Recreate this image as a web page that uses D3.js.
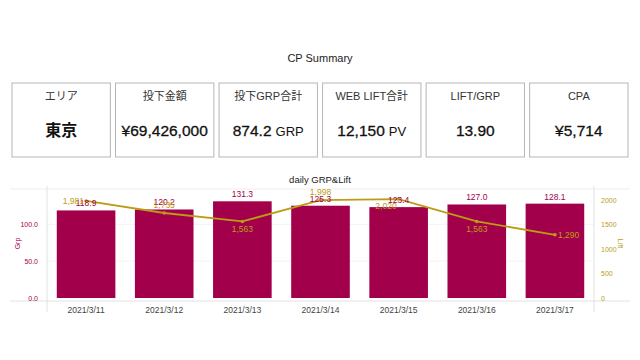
<!DOCTYPE html>
<html><head><meta charset="utf-8">
<script src="https://cdn.jsdelivr.net/npm/d3@7"></script>
<style>
html,body{margin:0;padding:0;background:#fff;}
svg{display:block;font-family:"Helvetica Neue",Arial,"Liberation Sans","Noto Sans CJK JP",sans-serif;}
</style></head>
<body>
<svg id="c" width="640" height="360"></svg>
<script>
const cardLabels = ["エリア","投下金額","投下GRP合計","WEB LIFT合計","LIFT/GRP","CPA"];
const cardValues = ["東京","¥69,426,000","874.2","12,150","13.90","¥5,714"];
const cardUnits = ["","","GRP","PV","",""];
const dates = ["2021/3/11","2021/3/12","2021/3/13","2021/3/14","2021/3/15","2021/3/16","2021/3/17"];
const grp = [118.9,120.2,131.3,125.3,123.4,127.0,128.1];
const lift = [1981,1735,1563,1998,2020,1563,1290];
const grpTicks = [0,50,100];
const liftTicks = [0,500,1000,1500,2000];
const liftLabelPos = ["left","top","bottom","top","bottomleft","bottom","right"];

const svg = d3.select("#c");
const crimson = "#a3004b", gold = "#bb9c14";

svg.append("text").attr("x",320).attr("y",62).attr("text-anchor","middle")
  .attr("font-size",11).attr("fill","#222").text("CP Summary");

const cardX = d3.scaleBand().domain(d3.range(cardLabels.length)).range([12,628]).paddingInner(0.05);
const cards = svg.selectAll("g.card").data(cardLabels).join("g").attr("class","card")
  .attr("transform",(d,i)=>`translate(${cardX(i)},83)`);
cards.append("rect").attr("width",cardX.bandwidth()).attr("height",74)
  .attr("fill","#fff").attr("stroke","#b5b5b5").attr("stroke-width",1);
cards.append("text").attr("x",cardX.bandwidth()/2).attr("y",17).attr("text-anchor","middle")
  .attr("font-size",11).attr("fill","#333").text(d=>d);
cards.each(function(d,i){
  const t = d3.select(this).append("text").attr("x",cardX.bandwidth()/2).attr("y",53)
    .attr("text-anchor","middle").attr("fill","#111");
  if(i===0){
    t.append("tspan").attr("font-size",16).attr("font-weight","bold").text(cardValues[i]);
  } else {
    t.append("tspan").attr("font-size",15.5).attr("stroke","#111").attr("stroke-width",0.3).text(cardValues[i]);
  }
  if(cardUnits[i]) t.append("tspan").attr("font-size",13).attr("dx",4).text(cardUnits[i]);
});

// chart
svg.append("text").attr("x",320).attr("y",183).attr("text-anchor","middle")
  .attr("font-size",9.5).attr("fill","#222").text("daily GRP&Lift");

const L=47, R=594, B=298, T=189;
const x = d3.scaleBand().domain(dates).range([L,R]).paddingInner(0.25).paddingOuter(0.125);
const yL = d3.scaleLinear().domain([0,148]).range([B,T]);
const yR = d3.scaleLinear().domain([0,2225]).range([B,T]);

svg.append("line").attr("x1",10).attr("x2",630).attr("y1",T).attr("y2",T).attr("stroke","#eee");
svg.append("g").selectAll("line").data(grpTicks.slice(1)).join("line")
  .attr("x1",L).attr("x2",R).attr("y1",d=>yL(d)).attr("y2",d=>yL(d)).attr("stroke","#f3f3f3");
svg.append("line").attr("x1",L).attr("x2",L).attr("y1",T-3).attr("y2",B+14).attr("stroke","#e2e2e2");
svg.append("line").attr("x1",R).attr("x2",R).attr("y1",T-3).attr("y2",B+14).attr("stroke","#e2e2e2");
svg.append("line").attr("x1",10).attr("x2",630).attr("y1",B+3).attr("y2",B+3).attr("stroke","#e2e2e2");

const axL = svg.append("g").attr("transform",`translate(${L-6},0)`)
  .call(d3.axisLeft(yL).tickValues(grpTicks).tickFormat(d3.format(".1f")).tickSize(0));
axL.select(".domain").remove();
axL.selectAll("text").attr("fill",crimson).attr("font-size",7).attr("font-family","inherit");
const axR = svg.append("g").attr("transform",`translate(${R+4},0)`)
  .call(d3.axisRight(yR).tickValues(liftTicks).tickFormat(d3.format("d")).tickSize(0));
axR.select(".domain").remove();
axR.selectAll("text").attr("fill",gold).attr("font-size",7).attr("font-family","inherit");
svg.append("text").attr("transform",`translate(20,${(T+B)/2}) rotate(-90)`).attr("text-anchor","middle")
  .attr("font-size",7).attr("fill",crimson).text("Grp");
svg.append("text").attr("transform",`translate(618,${(T+B)/2}) rotate(90)`).attr("text-anchor","middle")
  .attr("font-size",7).attr("fill",gold).text("Lift");

const axX = svg.append("g").attr("transform",`translate(0,${B+3})`)
  .call(d3.axisBottom(x).tickSize(0).tickPadding(6));
axX.select(".domain").remove();
axX.selectAll("text").attr("fill","#444").attr("font-size",8.5).attr("font-family","inherit");

svg.append("g").selectAll("rect").data(grp).join("rect")
  .attr("x",(d,i)=>x(dates[i])).attr("width",x.bandwidth())
  .attr("y",d=>yL(d)).attr("height",d=>B-yL(d)).attr("fill",crimson);

const line = d3.line().x((d,i)=>x(dates[i])+x.bandwidth()/2).y(d=>yR(d));
svg.append("path").datum(lift).attr("d",line).attr("fill","none").attr("stroke",gold).attr("stroke-width",1.8);
svg.append("g").selectAll("circle").data(lift).join("circle")
  .attr("cx",(d,i)=>x(dates[i])+x.bandwidth()/2).attr("cy",d=>yR(d)).attr("r",1.8).attr("fill",gold);

svg.append("g").selectAll("text").data(grp).join("text")
  .attr("x",(d,i)=>x(dates[i])+x.bandwidth()/2).attr("y",d=>yL(d)-4)
  .attr("text-anchor","middle").attr("font-size",8.5).attr("fill",crimson).text(d=>d3.format(".1f")(d));

const fmt = d3.format(",");
svg.append("g").selectAll("text").data(lift).join("text")
  .each(function(d,i){
    const cx = x(dates[i])+x.bandwidth()/2, cy = yR(d), p = liftLabelPos[i];
    let tx=cx, ty=cy, a="middle";
    if(p==="top"){ty=cy-5;}
    else if(p==="bottom"){ty=cy+11;}
    else if(p==="left"){tx=cx-2;ty=cy+3;a="end";}
    else if(p==="right"){tx=cx+3;ty=cy+3;a="start";}
    else if(p==="bottomleft"){tx=cx-2;ty=cy+10;a="end";}
    d3.select(this).attr("x",tx).attr("y",ty).attr("text-anchor",a);
  })
  .attr("font-size",8.5).attr("fill",gold).text(d=>fmt(d));
</script>
</body></html>
